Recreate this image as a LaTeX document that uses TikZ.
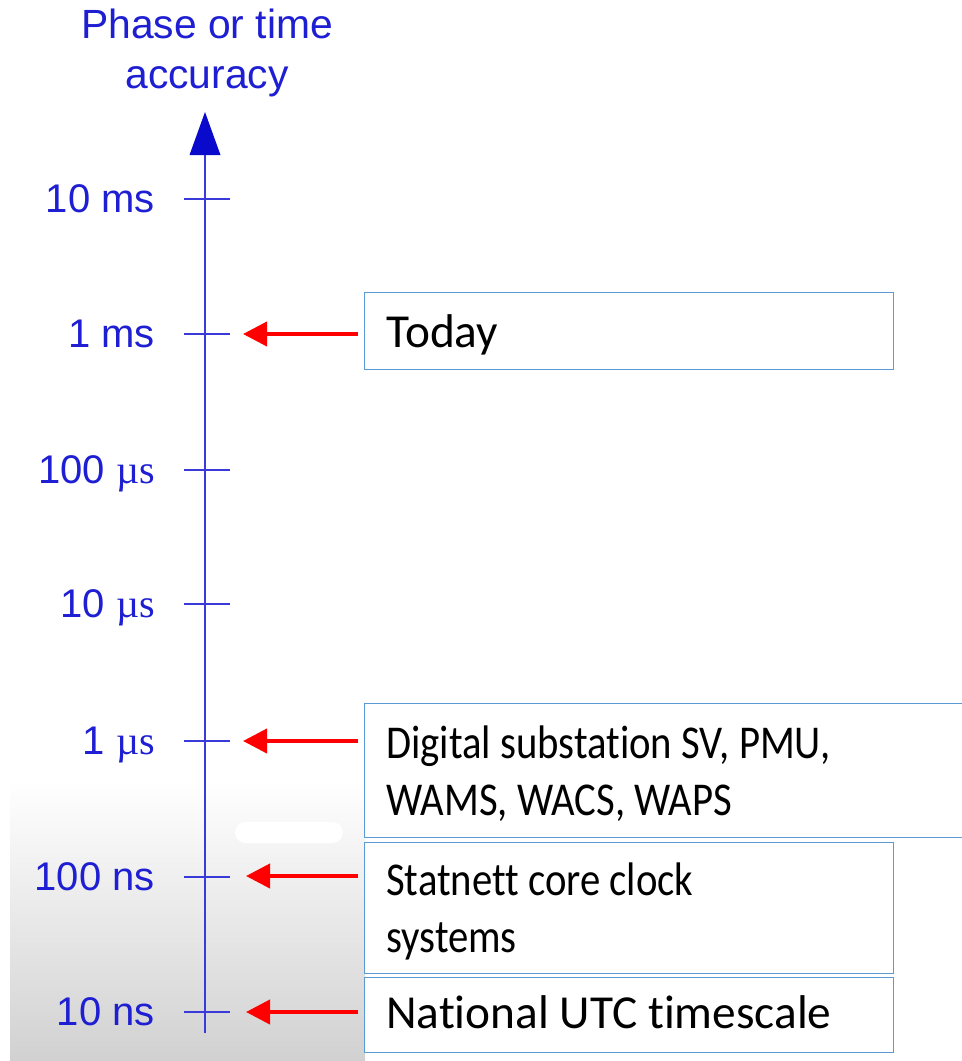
\documentclass[tikz,border=0pt]{standalone}
\usepackage{fontspec}
\setmainfont{Carlito}[RawFeature={-liga}]
\newfontfamily\condf{Carlito}[FakeStretch=0.865, RawFeature={-liga}]
\newfontfamily\arialf{Liberation Sans}
\newfontfamily\timesf{Liberation Serif}
\usetikzlibrary{arrows.meta}
\definecolor{axblue}{HTML}{3A3ADB}
\definecolor{lblblue}{HTML}{1E1ED2}
\definecolor{tipblue}{HTML}{0A0ACC}
\definecolor{boxblue}{HTML}{5B9BD5}
\tikzset{
  tick/.style={axblue, line width=1.4pt},
  lbl/.style={anchor=base east, inner sep=0pt, text=lblblue, font=\arialf\fontsize{30}{36}\selectfont},
  boxr/.style={draw=boxblue, line width=1.1pt, anchor=north west, inner sep=0pt},
  boxtxt/.style={anchor=base west, inner sep=0pt, align=left, font=\fontsize{35.5}{42.5}\selectfont},
  condtxt/.style={boxtxt, font=\condf\fontsize{35.3}{42.5}\selectfont},
  redarrow/.style={red, line width=3pt, -{Triangle[width=18pt,length=18pt]}, shorten <=4.5pt}
}
\newcommand{\mus}{{\timesf µs}}
\begin{document}
\begin{tikzpicture}[x=0.75pt,y=-0.75pt]
\useasboundingbox (0,0) rectangle (961,1061);
% background gradient
\shade[top color=white, bottom color=black!18] (10,780) rectangle (365,1061);
\fill[white, rounded corners=8] (235,822) rectangle (343,843);
% title (base = last line)
\node[anchor=base, inner sep=0pt, text=lblblue, align=center, font=\arialf\fontsize{30.6}{37.5}\selectfont] (title) at (207,88) {Phase or time\\accuracy};
% axis
\coordinate (axbot) at (205,1033);
\coordinate (axtop) at (205,112);
\draw[axblue, line width=1.5pt] (axbot) -- (205,150);
\fill[tipblue] (axtop) -- (189.5,155) -- (220.5,155) -- cycle;
% ticks and labels
\foreach \n/\y/\lab in {1/199/{10 ms}, 2/334/{1 ms}, 3/470/{100 \mus}, 4/604/{10 \mus}, 5/741/{1 \mus}, 6/877/{100 ns}, 7/1012/{10 ns}}{
  \coordinate (t\n) at (205,\y);
  \draw[tick] (184,\y) -- (230,\y);
  \node[lbl] (l\n) at (155,\y+13.5) {\lab};
}
% boxes
\node[boxr, minimum width=396.75pt, minimum height=57.75pt] (today) at (364,292) {};
\node[boxr, minimum width=450pt, minimum height=100.5pt] (digital) at (364,703) {};
\node[boxr, minimum width=396.75pt, minimum height=98.25pt] (statnett) at (364,842) {};
\node[boxr, minimum width=396.75pt, minimum height=56.25pt] (national) at (364,977) {};
% box texts (base = last line)
\node[boxtxt] (todaytxt) at (386,347) {Today};
\node[condtxt] (digitaltxt) at (386,815) {Digital substation SV, PMU,\\WAMS, WACS, WAPS};
\node[condtxt] (statnetttxt) at (386,952) {Statnett core clock\\systems};
\node[boxtxt] (nationaltxt) at (386,1028) {National UTC timescale};
% arrow tips
\coordinate (a2) at (243,334);
\coordinate (a5) at (243,741);
\coordinate (a6) at (246,876);
\coordinate (a7) at (246,1012);
\draw[redarrow] (today.west |- a2) -- (a2);
\draw[redarrow] (digital.west |- a5) -- (a5);
\draw[redarrow] (statnett.west |- a6) -- (a6);
\draw[redarrow] (national.west |- a7) -- (a7);
\end{tikzpicture}
\end{document}
